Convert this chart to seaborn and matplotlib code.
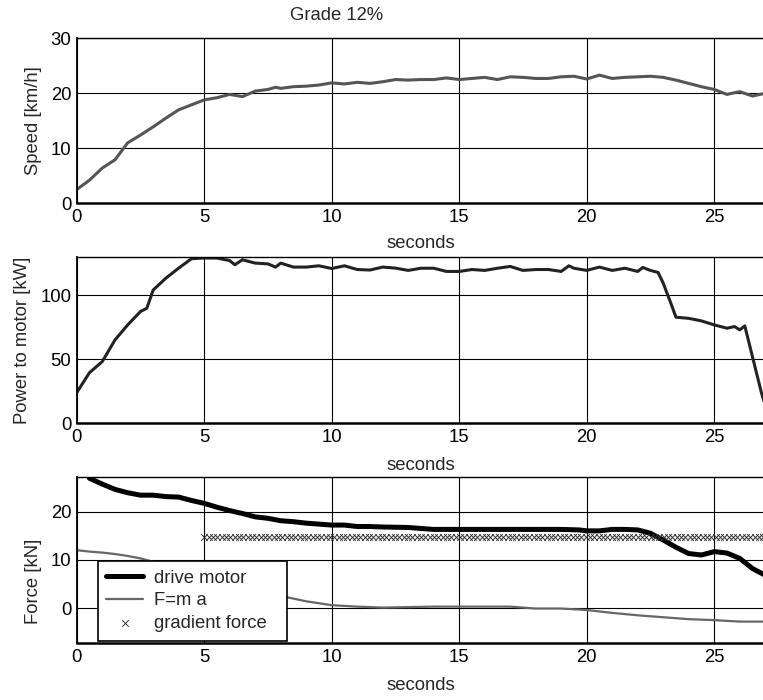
import numpy as np
import pandas as pd
import matplotlib
matplotlib.use("Agg")
import matplotlib.pyplot as plt
import seaborn as sns

# ---------------- data ----------------
speed_t = [0, 0.5, 1, 1.5, 2, 2.5, 3, 3.5, 4, 4.5, 5, 5.5, 6, 6.5, 7, 7.5, 7.8, 8, 8.5, 9,
           9.5, 10, 10.5, 11, 11.5, 12, 12.5, 13, 13.5, 14, 14.5, 15, 15.5, 16, 16.5, 17, 17.5, 18, 18.5, 19,
           19.5, 20, 20.5, 21, 21.5, 22, 22.5, 23, 23.5, 24, 24.5, 25, 25.5, 26, 26.5, 27]
speed_kmh = [2.5, 4.2, 6.4, 7.9, 11.0, 12.4, 13.9, 15.5, 17.0, 17.9, 18.8, 19.2, 19.8, 19.4, 20.4, 20.7, 21.1, 20.9, 21.2, 21.3,
             21.5, 21.9, 21.7, 22.0, 21.8, 22.1, 22.5, 22.4, 22.5, 22.5, 22.8, 22.5, 22.7, 22.9, 22.5, 23.0, 22.9, 22.7, 22.7, 23.0,
             23.1, 22.6, 23.3, 22.7, 22.9, 23.0, 23.1, 22.9, 22.4, 21.8, 21.2, 20.7, 19.8, 20.3, 19.5, 20.0]

power_t = [0, 0.5, 1, 1.5, 2, 2.5, 2.75, 3, 3.5, 4, 4.5, 5, 5.5, 6, 6.2, 6.5, 7, 7.5, 7.8, 8,
           8.5, 9, 9.5, 10, 10.5, 11, 11.5, 12, 12.5, 13, 13.5, 14, 14.5, 15, 15.5, 16, 16.5, 17, 17.5, 18,
           18.5, 19, 19.3, 19.5, 20, 20.5, 21, 21.5, 22, 22.2, 22.5, 22.8, 23, 23.3, 23.5, 24, 24.5, 25, 25.5, 25.8,
           26, 26.2, 26.5, 26.85, 27]
power_kw = [23.9, 39.5, 48.1, 65, 76.8, 87.2, 89.8, 104, 113.3, 121.1, 128.4, 129, 128.9, 127, 123.7, 127.6, 125, 124.4, 121.9, 125,
            121.9, 121.9, 122.9, 120.8, 122.9, 120, 119.6, 121.9, 121.1, 119.3, 121, 121, 118.5, 118.5, 120, 119.3, 121, 122.4, 119.3, 120,
            120, 118.5, 122.9, 121, 119.3, 121.9, 119.3, 121, 118.5, 121.6, 119.3, 117.7, 109.4, 93.7, 82.8, 81.9, 79.9, 76.8, 74.2, 75.5,
            72.9, 76.0, 52.0, 24.0, 14.0]

drive_t = [0.5, 1, 1.5, 2, 2.5, 3, 3.5, 4, 4.5, 5, 5.5, 6, 6.5, 7, 7.5, 8, 8.5, 9, 9.5, 10,
           10.5, 11, 11.5, 12, 13, 14, 15, 16, 17, 18, 19, 19.7, 20, 20.5, 21, 21.5, 22, 22.5, 23, 23.5,
           24, 24.5, 25, 25.5, 26, 26.5, 27]
drive_kn = [26.9, 25.7, 24.6, 23.9, 23.4, 23.4, 23.1, 23.0, 22.3, 21.7, 20.9, 20.2, 19.6, 18.9, 18.6, 18.1, 17.9, 17.6, 17.4, 17.2,
            17.2, 16.9, 16.9, 16.8, 16.7, 16.3, 16.3, 16.3, 16.3, 16.3, 16.3, 16.2, 16.0, 16.0, 16.3, 16.3, 16.2, 15.5, 14.1, 12.6,
            11.3, 11.0, 11.7, 11.4, 10.3, 8.2, 6.8]

fma_t = [0, 0.5, 1, 1.5, 2, 2.5, 3, 3.5, 4, 5, 6, 7, 8, 8.2, 9, 9.5, 10, 11, 12, 13,
         14, 15, 16, 17, 18, 19, 20, 21, 22, 23, 24, 25, 26, 27]
fma_kn = [12.0, 11.7, 11.5, 11.2, 10.8, 10.3, 9.6, 9.2, 8.5, 7.0, 5.4, 3.9, 2.6, 2.3, 1.4, 1.0, 0.6, 0.3, 0.1, 0.2,
          0.3, 0.3, 0.3, 0.3, -0.1, -0.1, -0.4, -1.0, -1.5, -1.9, -2.3, -2.5, -2.8, -2.8]

gradient_t = np.arange(5.0, 27.0, 0.17)
gradient_kn = 14.8

x_ticks = [0, 5, 10, 15, 20, 25]
speed_ticks = [0, 10, 20, 30]
power_ticks = [0, 50, 100]
force_ticks = [0, 10, 20]

# ---------------- style ----------------
sns.set_style("white")
plt.rcParams["font.family"] = ["Liberation Sans", "DejaVu Sans"]
plt.rcParams["font.size"] = 13.3

FS = 13.3
W, H = 763, 700
fig = plt.figure(figsize=(W / 100, H / 100), dpi=100)

left_px = 76.7
px_per_s = 25.5
xmax = 27.0
ax_w = xmax * px_per_s


def make_ax(top_px, bottom_px):
    return fig.add_axes([left_px / W, 1 - bottom_px / H, ax_w / W, (bottom_px - top_px) / H])


ax1 = make_ax(38.3, 203.3)
ax2 = make_ax(256.7, 423.3)
ax3 = make_ax(477.3, 643.3)


def style_ax(ax, yticks, ylim):
    ax.set_xlim(0, xmax)
    ax.set_ylim(*ylim)
    ax.set_xticks(x_ticks)
    ax.set_yticks(yticks)
    ax.grid(True, color="black", linewidth=0.8)
    ax.set_axisbelow(True)
    ax.tick_params(axis="both", length=0, labelsize=FS, colors="black", pad=4)
    for s in ["top", "right", "left"]:
        ax.spines[s].set_visible(True)
        ax.spines[s].set_color("black")
        ax.spines[s].set_linewidth(1.0)
    ax.spines["bottom"].set_color("black")
    ax.spines["bottom"].set_linewidth(1.8)
    ax.spines["left"].set_linewidth(1.3)


# Speed
df_speed = pd.DataFrame({"t": speed_t, "v": speed_kmh})
sns.lineplot(data=df_speed, x="t", y="v", ax=ax1, color="#555555", linewidth=2.2)
style_ax(ax1, speed_ticks, (0, 30))
ax1.set_ylabel("Speed [km/h]", fontsize=FS)
ax1.set_xlabel("seconds", fontsize=FS)
ax1.yaxis.set_label_coords(-0.050, 0.5)
ax1.xaxis.set_label_coords(0.5, -0.19)

# Power
df_power = pd.DataFrame({"t": power_t, "p": power_kw})
sns.lineplot(data=df_power, x="t", y="p", ax=ax2, color="#222222", linewidth=2.2)
style_ax(ax2, power_ticks, (0, 130))
ax2.set_ylabel("Power to motor [kW]", fontsize=FS)
ax2.set_xlabel("seconds", fontsize=FS)
ax2.yaxis.set_label_coords(-0.066, 0.5)
ax2.xaxis.set_label_coords(0.5, -0.205)

# Force
df_drive = pd.DataFrame({"t": drive_t, "f": drive_kn})
df_fma = pd.DataFrame({"t": fma_t, "f": fma_kn})
df_grad = pd.DataFrame({"t": gradient_t, "f": np.full(len(gradient_t), gradient_kn)})
sns.lineplot(data=df_drive, x="t", y="f", ax=ax3, color="black", linewidth=3.6, label="drive motor")
sns.lineplot(data=df_fma, x="t", y="f", ax=ax3, color="#666666", linewidth=1.6, label="F=m a")
sns.scatterplot(data=df_grad, x="t", y="f", ax=ax3, marker="x", s=22, color="#333333",
                linewidth=0.7, label="gradient force", zorder=3)
style_ax(ax3, force_ticks, (-7.3, 27.1))
ax3.set_ylabel("Force [kN]", fontsize=FS)
ax3.set_xlabel("seconds", fontsize=FS)
ax3.yaxis.set_label_coords(-0.050, 0.375)
ax3.xaxis.set_label_coords(0.5, -0.205)

leg = ax3.legend(loc="lower left", bbox_to_anchor=(0.031, 0.016, 189 / ax_w, 0.5), borderaxespad=0,
                 mode="expand",
                 fontsize=FS, frameon=True, fancybox=False, framealpha=1, edgecolor="black",
                 handlelength=2.0, handletextpad=0.6, labelspacing=0.32, borderpad=0.45,
                 scatterpoints=1)
leg.get_frame().set_linewidth(1.2)

fig.text(337 / W, 1 - 16 / H, "Grade 12%", ha="center", va="center", fontsize=FS)

fig.savefig("out.png", dpi=100)
